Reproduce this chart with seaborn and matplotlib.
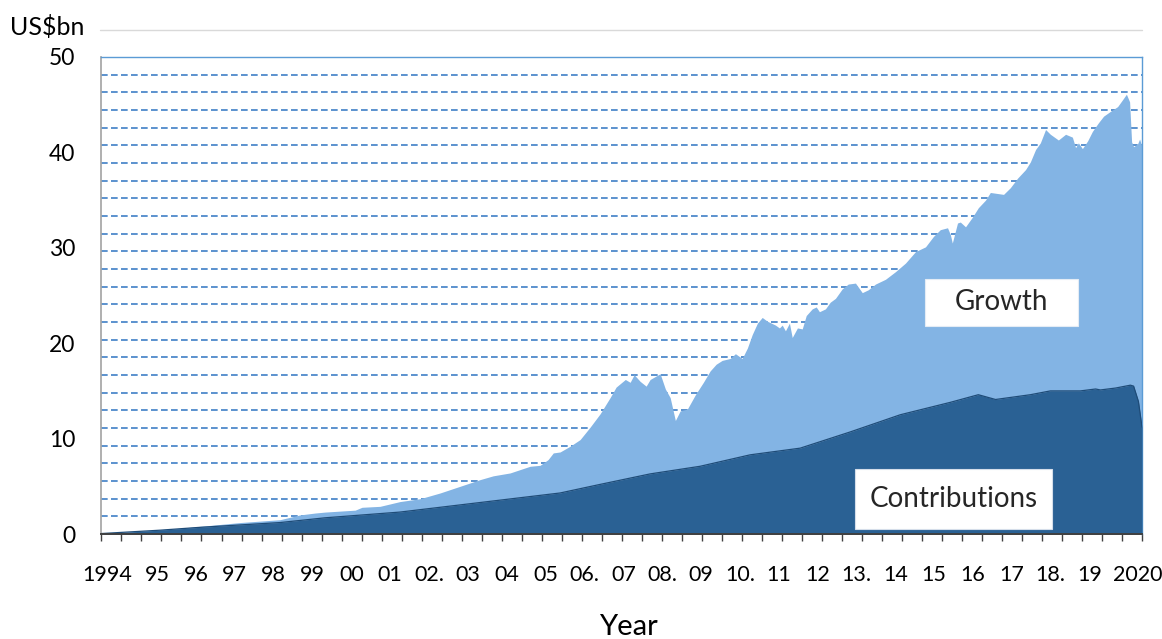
import numpy as np
import pandas as pd
import seaborn as sns
import matplotlib
matplotlib.use("Agg")
import matplotlib.pyplot as plt
from matplotlib.patches import Rectangle
from matplotlib.lines import Line2D
from matplotlib.transforms import blended_transform_factory

# Fund value (US$bn): total = contributions + growth
total_year = [
    1994.00, 1994.71, 1995.46, 1995.96, 1996.46, 1996.96, 1997.46, 1997.96, 1998.46, 1998.96,
    1999.34, 1999.59, 1999.96, 2000.34, 2000.51, 2000.96, 2001.46, 2001.96, 2002.46, 2002.96,
    2003.46, 2003.79, 2004.21, 2004.71, 2004.96, 2005.16, 2005.29, 2005.46, 2005.71, 2005.96,
    2006.21, 2006.46, 2006.71, 2006.86, 2007.09, 2007.21, 2007.31, 2007.46, 2007.61, 2007.71,
    2007.96, 2008.09, 2008.21, 2008.34, 2008.46, 2008.64, 2008.84, 2009.04, 2009.21, 2009.36,
    2009.51, 2009.71, 2009.84, 2010.01, 2010.14, 2010.26, 2010.39, 2010.51, 2010.64, 2010.84,
    2010.94, 2011.01, 2011.09, 2011.19, 2011.26, 2011.39, 2011.51, 2011.61, 2011.76, 2011.86,
    2011.94, 2012.09, 2012.21, 2012.34, 2012.51, 2012.66, 2012.84, 2013.01, 2013.16, 2013.34,
    2013.59, 2013.84, 2014.09, 2014.34, 2014.59, 2014.79, 2014.96, 2015.14, 2015.21, 2015.26,
    2015.39, 2015.46, 2015.59, 2015.76, 2015.91, 2016.09, 2016.21, 2016.54, 2016.71, 2016.89,
    2017.09, 2017.21, 2017.34, 2017.46, 2017.59, 2017.71, 2017.91, 2018.09, 2018.26, 2018.34,
    2018.41, 2018.51, 2018.64, 2018.76, 2018.91, 2019.04, 2019.21, 2019.39, 2019.51, 2019.61,
    2019.69, 2019.74, 2019.79, 2019.89, 2019.94, 2020.00,
]
total_value = [
    0.05, 0.2, 0.45, 0.6, 0.8, 1.0, 1.2, 1.35, 1.5, 2.0,
    2.2, 2.3, 2.4, 2.5, 2.8, 2.9, 3.4, 3.7, 4.3, 5.0,
    5.7, 6.1, 6.4, 7.1, 7.2, 7.8, 8.5, 8.6, 9.2, 9.9,
    11.2, 12.6, 14.3, 15.4, 16.2, 15.9, 16.7, 16.0, 15.5, 16.2,
    16.8, 15.2, 14.3, 11.9, 12.9, 13.1, 14.6, 15.9, 17.1, 17.8,
    18.2, 18.4, 18.9, 18.4, 19.5, 20.9, 22.1, 22.7, 22.3, 21.9,
    21.6, 21.9, 21.3, 22.1, 20.6, 21.6, 21.5, 22.9, 23.6, 23.8,
    23.3, 23.6, 24.3, 24.7, 25.7, 26.2, 26.3, 25.3, 25.6, 26.2,
    26.7, 27.5, 28.4, 29.6, 30.1, 31.2, 31.9, 32.1, 31.4, 30.5,
    32.6, 32.7, 32.2, 33.2, 34.2, 35.0, 35.8, 35.6, 36.3, 37.3,
    38.2, 39.0, 40.3, 41.0, 42.4, 41.9, 41.3, 41.9, 41.6, 40.5,
    41.0, 40.4, 41.2, 42.2, 43.1, 43.8, 44.3, 44.8, 45.5, 46.1,
    45.3, 41.1, 40.6, 40.9, 41.4, 40.6,
]

contrib_year = [
    1994.00, 1995.46, 1996.46, 1997.46, 1998.46, 1999.59, 2001.46, 2003.46, 2005.46, 2006.46,
    2007.71, 2008.96, 2010.21, 2011.46, 2012.71, 2013.96, 2015.21, 2015.91, 2016.34, 2017.21,
    2017.71, 2018.46, 2018.84, 2018.96, 2019.34, 2019.71, 2019.79, 2019.91, 2020.00,
]
contrib_value = [
    0.05, 0.4, 0.7, 0.95, 1.2, 1.7, 2.3, 3.3, 4.3, 5.2,
    6.3, 7.1, 8.3, 9.0, 10.7, 12.5, 13.8, 14.6, 14.1, 14.6,
    15.0, 15.0, 15.2, 15.1, 15.3, 15.6, 15.5, 13.9, 11.2,
]

year_labels = ["1994", "95", "96", "97", "98", "99", "00", "01", "02.", "03", "04", "05",
               "06.", "07", "08.", "09", "10.", "11", "12", "13.", "14", "15", "16", "17",
               "18.", "19", "2020"]
y_ticks = [0, 10, 20, 30, 40, 50]

total_df = pd.DataFrame({"year": total_year, "value": total_value})
contrib_df = pd.DataFrame({"year": contrib_year, "value": contrib_value})

LIGHT = "#83B4E4"
DARK = "#2A6194"
GRID = "#3F7FC6"

sns.set_theme(style="white")
plt.rcParams["font.family"] = ["Lato", "DejaVu Sans"]

fig = plt.figure(figsize=(11.62, 6.39), dpi=100)
ax = fig.add_axes([0.0873, 0.1643, 0.8955, 0.7465])

# dashed horizontal guides behind the areas
for v in np.linspace(0, 50, 28)[1:]:
    ax.axhline(v, color=GRID, lw=1.2, ls=(0, (4, 2)), zorder=0)

ax.fill_between(total_df["year"], 0, total_df["value"], color=LIGHT, lw=0, zorder=2)
ax.fill_between(contrib_df["year"], 0, contrib_df["value"], color=DARK, lw=0, zorder=3)
sns.lineplot(data=contrib_df, x="year", y="value", ax=ax, color="#1F4C78", lw=0.9, zorder=4)

ax.set_xlim(1994, 2020)
ax.set_ylim(0, 50)
ax.set_xlabel("")
ax.set_ylabel("")

# axes frame
ax.spines["bottom"].set_color("#404040")
ax.spines["bottom"].set_linewidth(1.4)
ax.spines["bottom"].set_zorder(6)
ax.spines["left"].set_color("#A6A6A6")
ax.spines["left"].set_linestyle((0, (1, 1)))
ax.spines["top"].set_color("#5B9BD5")
ax.spines["top"].set_linewidth(1.0)
ax.spines["right"].set_color("#5B9BD5")
ax.spines["right"].set_linewidth(1.0)

ax.set_yticks(y_ticks)
ax.set_yticklabels([str(t) for t in y_ticks])
ax.tick_params(axis="y", length=0, pad=19, labelsize=16.5, labelcolor="#000000")

ax.set_xticks(np.arange(1994, 2020.01, 0.5))
ax.set_xticklabels([])
ax.tick_params(axis="x", direction="out", length=5, width=1.0, color="#404040", bottom=True)

# year labels under the axis
label_pos = np.concatenate([[1994.14], np.linspace(1995.39, 2018.69, 25), [2019.89]])
trans = blended_transform_factory(ax.transData, fig.transFigure)
for pos, lab in zip(label_pos, year_labels):
    ax.text(pos, 0.100, lab, transform=trans, ha="center", va="center",
            fontsize=15.5, color="#000000")

fig.text(0.5404, 0.019, "Year", ha="center", va="center", fontsize=21, color="#000000")
fig.text(0.009, 0.957, "US$bn", ha="left", va="center", fontsize=18, color="#000000")
fig.add_artist(Line2D([0.086, 0.983], [0.953, 0.953], transform=fig.transFigure,
                      color="#D9D9D9", lw=1.0))

# series name boxes
ax.add_patch(Rectangle((2014.59, 21.8), 3.82, 4.9, facecolor="white",
                       edgecolor="#E4ECF5", lw=0.8, zorder=7))
ax.text(2016.50, 24.3, "Growth", ha="center", va="center", fontsize=20, zorder=8)
ax.add_patch(Rectangle((2012.84, 0.55), 4.92, 6.25, facecolor="white",
                       edgecolor="#D5DEEA", lw=0.8, zorder=7))
ax.text(2015.30, 3.65, "Contributions", ha="center", va="center", fontsize=20, zorder=8)

fig.savefig("out.png", dpi=100)
